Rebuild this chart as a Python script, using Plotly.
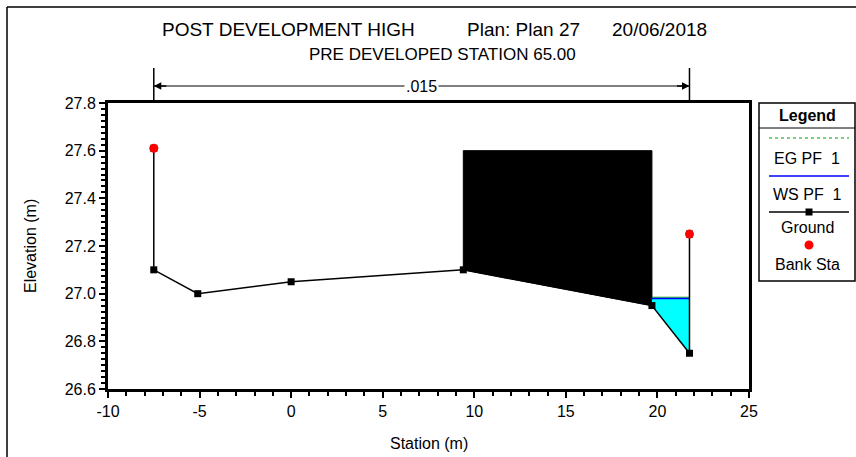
import plotly.graph_objects as go

# ---------------- data ----------------
ground_x = [-7.5, -7.5, -5.1, 0.0, 9.4, 19.7, 21.75, 21.75]
ground_y = [27.61, 27.1, 27.0, 27.05, 27.1, 26.95, 26.75, 27.25]
bank_x = [-7.5, 21.75]
bank_y = [27.61, 27.25]
obstr_x = [9.4, 9.4, 19.7, 19.7, 9.4]
obstr_y = [27.1, 27.6, 27.6, 26.95, 27.1]
ws_x = [19.7, 21.75, 21.75, 19.7]
ws_y = [26.98, 26.98, 26.75, 26.95]
ws_elev = 26.98
eg_elev = 26.985
n_value = ".015"
x_ticks = [-10, -5, 0, 5, 10, 15, 20, 25]
y_ticks = [26.6, 26.8, 27.0, 27.2, 27.4, 27.6, 27.8]

FONT = "Arial, Liberation Sans, sans-serif"
W, H = 856, 457
PL, PR, PT, PB = 108, 749, 103, 389  # plot area pixel bounds


def px(xp):
    return (xp - PL) / (PR - PL)


def py(yp):
    return (PB - yp) / (PB - PT)


fig = go.Figure()

# blocked obstruction
fig.add_trace(go.Scatter(x=obstr_x, y=obstr_y, fill="toself", fillcolor="black",
                         mode="lines", line=dict(color="black", width=1),
                         showlegend=False, hoverinfo="skip"))
# water
fig.add_trace(go.Scatter(x=ws_x, y=ws_y, fill="toself", fillcolor="#00FFFF",
                         mode="lines", line=dict(color="rgba(0,0,0,0)", width=0),
                         showlegend=False, hoverinfo="skip"))
# EG / WS lines
fig.add_trace(go.Scatter(x=[ws_x[0], ws_x[1]], y=[eg_elev, eg_elev], mode="lines",
                         line=dict(color="#00A000", width=1), showlegend=False))
fig.add_trace(go.Scatter(x=[ws_x[0], ws_x[1]], y=[ws_elev, ws_elev], mode="lines",
                         line=dict(color="#0000FF", width=1.5), showlegend=False))
# ground
fig.add_trace(go.Scatter(x=ground_x, y=ground_y, mode="lines+markers",
                         line=dict(color="black", width=1.5),
                         marker=dict(symbol="square", size=7, color="black"),
                         showlegend=False))
# bank stations
fig.add_trace(go.Scatter(x=bank_x, y=bank_y, mode="markers",
                         marker=dict(symbol="circle", size=9, color="#FF0000"),
                         showlegend=False))

shapes = []
ann = []

# outer frame (top and left)
shapes.append(dict(type="line", xref="paper", yref="paper", x0=px(7), x1=px(W + 5),
                   y0=py(7), y1=py(7), line=dict(color="black", width=1.5)))
shapes.append(dict(type="line", xref="paper", yref="paper", x0=px(7), x1=px(7),
                   y0=py(7), y1=py(H + 5), line=dict(color="black", width=1.5)))

# dimension line for n value
y_arrow = py(86)
for bx in bank_x:
    shapes.append(dict(type="line", xref="x", yref="paper", x0=bx, x1=bx,
                       y0=py(68), y1=py(101), line=dict(color="black", width=1.5)))
shapes.append(dict(type="line", xref="x", yref="paper", x0=bank_x[0], x1=bank_x[1],
                   y0=y_arrow, y1=y_arrow, line=dict(color="black", width=1)))
ann.append(dict(x=bank_x[0], y=y_arrow, xref="x", yref="paper", ax=14, ay=0,
                showarrow=True, arrowhead=2, arrowsize=1, arrowwidth=1.5,
                arrowcolor="black", text=""))
ann.append(dict(x=bank_x[1], y=y_arrow, xref="x", yref="paper", ax=-14, ay=0,
                showarrow=True, arrowhead=2, arrowsize=1, arrowwidth=1.5,
                arrowcolor="black", text=""))
ann.append(dict(x=(bank_x[0] + bank_x[1]) / 2, y=y_arrow, xref="x", yref="paper",
                text=n_value, showarrow=False, bgcolor="white",
                font=dict(family=FONT, size=16, color="black"),
                xanchor="center", yanchor="middle", borderpad=1))

# titles
ann.append(dict(x=px(160), y=py(29), xref="paper", yref="paper", showarrow=False,
                text="POST DEVELOPMENT HIGH", xanchor="left", yanchor="middle",
                font=dict(family=FONT, size=19, color="black")))
ann.append(dict(x=px(465), y=py(29), xref="paper", yref="paper", showarrow=False,
                text="Plan: Plan 27", xanchor="left", yanchor="middle",
                font=dict(family=FONT, size=19, color="black")))
ann.append(dict(x=px(610), y=py(29), xref="paper", yref="paper", showarrow=False,
                text="20/06/2018", xanchor="left", yanchor="middle",
                font=dict(family=FONT, size=19, color="black")))
ann.append(dict(x=px(442), y=py(55), xref="paper", yref="paper", showarrow=False,
                text="PRE DEVELOPED STATION 65.00", xanchor="center", yanchor="middle",
                font=dict(family=FONT, size=17, color="black")))

# axis titles
ann.append(dict(x=0.5, y=py(443), xref="paper", yref="paper", showarrow=False,
                text="Station (m)", xanchor="center", yanchor="middle",
                font=dict(family=FONT, size=16, color="black")))
ann.append(dict(x=px(30), y=0.5, xref="paper", yref="paper", showarrow=False,
                text="Elevation (m)", textangle=-90, xanchor="center", yanchor="middle",
                font=dict(family=FONT, size=16, color="black")))

# legend box
LX0, LX1, LY0, LY1 = 759, 855, 103, 281
shapes.append(dict(type="rect", xref="paper", yref="paper", x0=px(LX0), x1=px(LX1),
                   y0=py(LY0), y1=py(LY1), line=dict(color="black", width=1.5),
                   fillcolor="white"))
shapes.append(dict(type="line", xref="paper", yref="paper", x0=px(LX0), x1=px(LX1),
                   y0=py(128), y1=py(128), line=dict(color="black", width=1)))
ann.append(dict(x=px((LX0 + LX1) / 2), y=py(116), xref="paper", yref="paper",
                showarrow=False, text="<b>Legend</b>", xanchor="center", yanchor="middle",
                font=dict(family=FONT, size=16, color="black")))
# sample lines
shapes.append(dict(type="line", xref="paper", yref="paper", x0=px(769), x1=px(849),
                   y0=py(138), y1=py(138), line=dict(color="#00A000", width=1, dash="dot")))
shapes.append(dict(type="line", xref="paper", yref="paper", x0=px(769), x1=px(849),
                   y0=py(176), y1=py(176), line=dict(color="#0000FF", width=1.5)))
shapes.append(dict(type="line", xref="paper", yref="paper", x0=px(769), x1=px(849),
                   y0=py(212), y1=py(212), line=dict(color="black", width=1.5)))
shapes.append(dict(type="rect", xref="paper", yref="paper", x0=px(805.5), x1=px(812.5),
                   y0=py(208.5), y1=py(215.5), line=dict(color="black", width=0),
                   fillcolor="black"))
shapes.append(dict(type="circle", xref="paper", yref="paper", x0=px(804.5), x1=px(813.5),
                   y0=py(240.5), y1=py(249.5), line=dict(color="#FF0000", width=0),
                   fillcolor="#FF0000"))
for label, yy in [("EG PF  1", 158), ("WS PF  1", 194), ("Ground", 227), ("Bank Sta", 264)]:
    ann.append(dict(x=px((LX0 + LX1) / 2), y=py(yy), xref="paper", yref="paper",
                    showarrow=False, text=label, xanchor="center", yanchor="middle",
                    font=dict(family=FONT, size=16, color="black")))

fig.update_layout(
    width=W, height=H,
    margin=dict(l=PL, r=W - PR, t=PT, b=H - PB),
    paper_bgcolor="white", plot_bgcolor="white",
    showlegend=False,
    shapes=shapes, annotations=ann,
    font=dict(family=FONT, color="black"),
)
fig.update_xaxes(range=[-10, 25], tickvals=x_ticks, ticktext=[str(v) for v in x_ticks],
                 ticks="outside", ticklen=6, tickwidth=1.5, tickcolor="black",
                 minor=dict(dtick=1, ticks="outside", ticklen=4, tickwidth=1.5, tickcolor="black"),
                 showline=True, linecolor="black", linewidth=3, mirror=True,
                 showgrid=False, zeroline=False,
                 tickfont=dict(family=FONT, size=16, color="black"))
fig.update_yaxes(range=[26.6, 27.8], tickvals=y_ticks, ticktext=[f"{v:.1f}" for v in y_ticks],
                 ticks="outside", ticklen=6, tickwidth=1.5, tickcolor="black",
                 minor=dict(dtick=0.025, tick0=26.6, ticks="outside", ticklen=4, tickwidth=1.5, tickcolor="black"),
                 showline=True, linecolor="black", linewidth=3, mirror=True,
                 showgrid=False, zeroline=False,
                 tickfont=dict(family=FONT, size=16, color="black"))

fig.write_html("out.html")
